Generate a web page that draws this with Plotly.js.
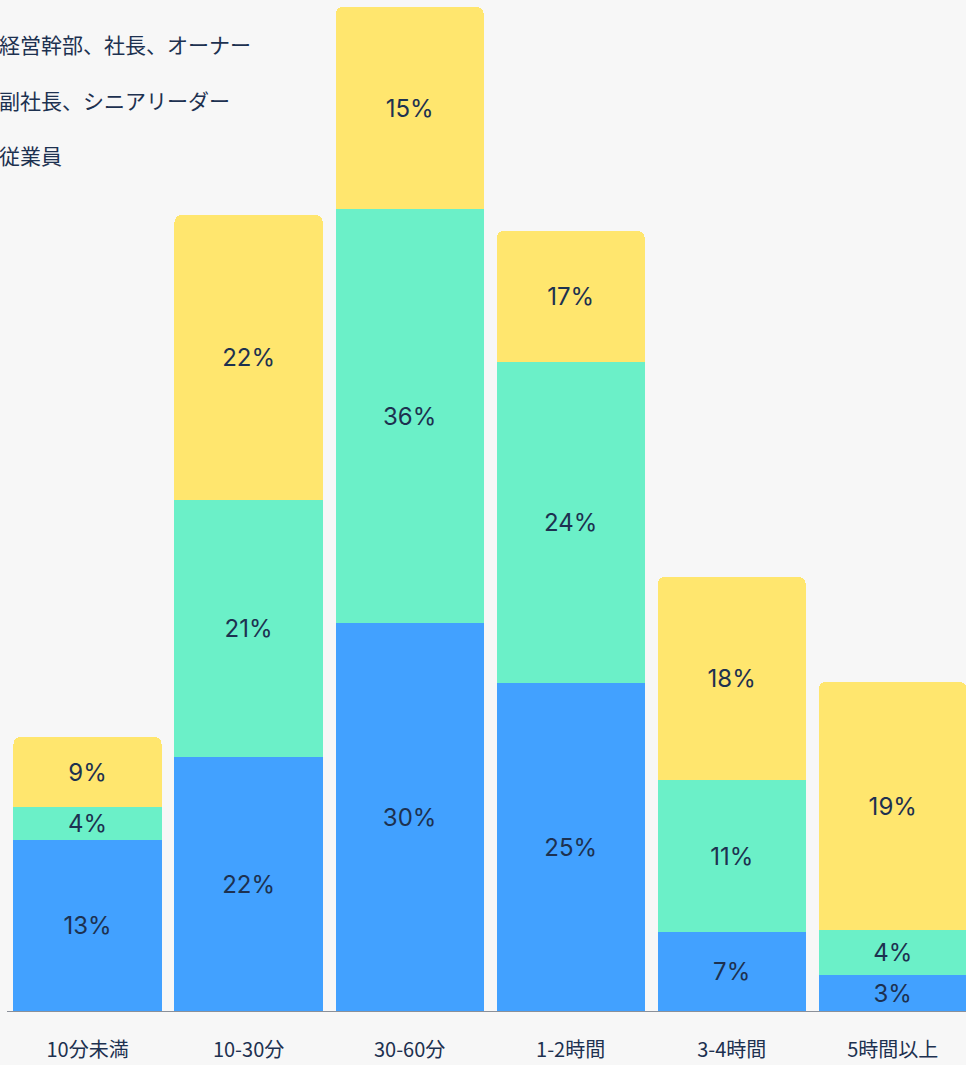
<!DOCTYPE html>
<html>
<head>
<meta charset="utf-8">
<script src="https://cdn.plot.ly/plotly-3.0.1.min.js"></script>
<style>
html,body{margin:0;padding:0;background:#f7f7f7;}
#chart{width:966px;height:1065px;}
</style>
</head>
<body>
<div id="chart"></div>
<script>
const categories = ["10分未満", "10-30分", "30-60分", "1-2時間", "3-4時間", "5時間以上"];
const seriesNames = ["従業員", "副社長、シニアリーダー", "経営幹部、社長、オーナー"];
// bar heights (relative counts)
const employees = [42.75, 63.5, 97, 82, 19.75, 9];
const vicePresidents = [8.25, 64.25, 103.5, 80.25, 38, 11.25];
const executives = [17.5, 71.25, 50.5, 32.75, 50.75, 62];
// percentage labels shown on the bars
const employeesPct = ["13%", "22%", "30%", "25%", "7%", "3%"];
const vicePresidentsPct = ["4%", "21%", "36%", "24%", "11%", "4%"];
const executivesPct = ["9%", "22%", "15%", "17%", "18%", "19%"];

const colors = ["#42a1ff", "#6bf0c8", "#ffe66e"];
const textColor = "#1d3150";
const numFont = "Inter, 'Noto Sans CJK JP', sans-serif";

function mk(name, y, txt, color, grp, rank) {
  return {
    type: "bar", name: name, x: categories, y: y, text: txt,
    texttemplate: "%{text}", textposition: "inside", insidetextanchor: "middle",
    textangle: 0, constraintext: "none",
    textfont: {family: numFont, size: 24, color: textColor},
    marker: {color: color, line: {width: 0}},
    legendgroup: grp, legendrank: rank, hoverinfo: "x+y+name"
  };
}

const data = [
  mk(seriesNames[0], employees, employeesPct, colors[0], "g1", 3),
  mk(seriesNames[1], vicePresidents, vicePresidentsPct, colors[1], "g2", 2),
  mk(seriesNames[2], executives, executivesPct, colors[2], "g3", 1)
];

const layout = {
  width: 966, height: 1065,
  paper_bgcolor: "#f7f7f7", plot_bgcolor: "#f7f7f7",
  margin: {l: 7, r: 0, t: 0, b: 54, autoexpand: false},
  barmode: "stack", bargap: 0.08, barcornerradius: 7,
  font: {family: "'Noto Sans CJK JP', sans-serif", color: textColor},
  showlegend: true,
  legend: {
    xref: "paper", yref: "container",
    x: -0.0501, y: 1 - 25/1065, xanchor: "left", yanchor: "top",
    bgcolor: "rgba(0,0,0,0)", traceorder: "grouped",
    tracegroupgap: 25,
    font: {family: "'Noto Sans CJK JP', sans-serif", size: 21, color: textColor}
  },
  xaxis: {
    range: [-0.5, 5.455], showgrid: false, zeroline: false,
    showline: true, linecolor: "#8b9099", linewidth: 1,
    ticks: "", ticklabelstandoff: 21,
    tickfont: {family: "'Noto Sans CJK JP', sans-serif", size: 20, color: textColor},
    fixedrange: true
  },
  yaxis: {
    range: [0, 252.75], visible: false, showgrid: false, zeroline: false,
    fixedrange: true
  }
};

Plotly.newPlot("chart", data, layout, {displayModeBar: false, staticPlot: true});
</script>
</body>
</html>
